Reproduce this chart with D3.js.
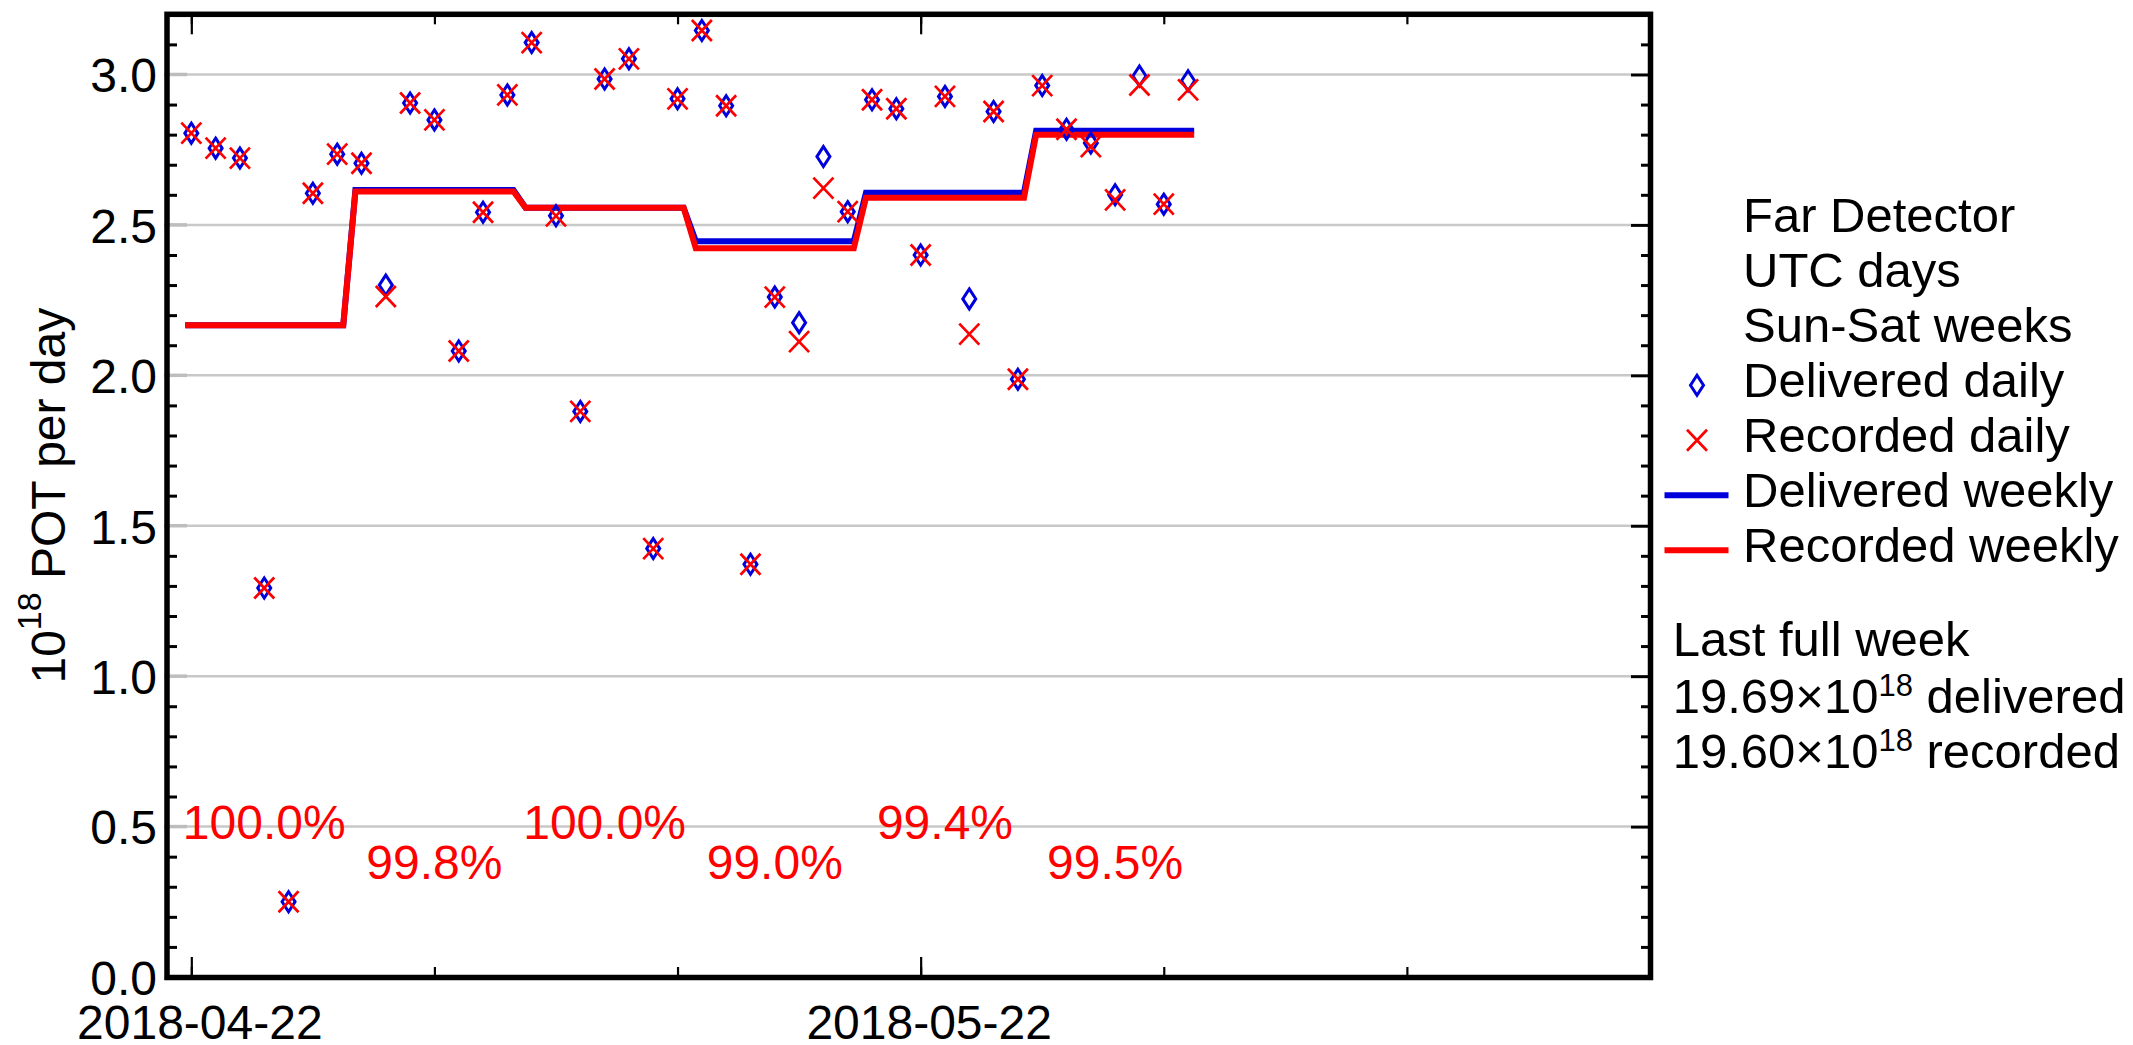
<!DOCTYPE html>
<html>
<head>
<meta charset="utf-8">
<script src="https://cdn.jsdelivr.net/npm/d3@7"></script>
<style>
  body { margin: 0; background: #fff; }
  text { font-family: "Liberation Sans", Arial, Helvetica, sans-serif; }
</style>
</head>
<body>
<svg id="chart" width="2133" height="1045"></svg>
<script>
// POT per UTC day (units of 1e18), starting 2018-04-22
var firstDay = "2018-04-22";
var deliveredDaily = [
  2.805, 2.755, 2.722, 1.293, 0.250, 2.605, 2.735,
  2.705, 2.300, 2.905, 2.849, 2.081, 2.542, 2.932,
  3.106, 2.530, 1.880, 2.985, 3.052, 1.424, 2.919,
  3.146, 2.896, 1.372, 2.260, 2.175, 2.727, 2.544,
  2.916, 2.886, 2.400, 2.927, 2.254, 2.877, 1.987,
  2.963, 2.818, 2.772, 2.600, 2.995, 2.569, 2.979
];
var recordedDaily = [
  2.805, 2.755, 2.722, 1.293, 0.250, 2.605, 2.735,
  2.705, 2.262, 2.905, 2.849, 2.081, 2.542, 2.932,
  3.106, 2.530, 1.880, 2.985, 3.052, 1.424, 2.919,
  3.146, 2.896, 1.372, 2.260, 2.112, 2.622, 2.544,
  2.916, 2.886, 2.400, 2.927, 2.137, 2.877, 1.987,
  2.963, 2.818, 2.760, 2.583, 2.965, 2.569, 2.949
];

// Sun-Sat weeks
var weekStarts = ["2018-04-22", "2018-04-29", "2018-05-06", "2018-05-13", "2018-05-20", "2018-05-27"];
var deliveredWeekly = [2.166, 2.616, 2.557, 2.446, 2.607, 2.813];
var recordedWeekly = [2.166, 2.611, 2.557, 2.422, 2.590, 2.800];
var weekEfficiency = ["100.0%", "99.8%", "100.0%", "99.0%", "99.4%", "99.5%"];

// axes
var xDomain = ["2018-04-21", "2018-06-21"];
var xTickDates = ["2018-04-22", "2018-05-02", "2018-05-12", "2018-05-22", "2018-06-01", "2018-06-11"];
var xLabelDates = ["2018-04-22", "2018-05-22"];
var yLabelValues = [0.0, 0.5, 1.0, 1.5, 2.0, 2.5, 3.0];
var yMinorValues = [0.1, 0.2, 0.3, 0.4, 0.6, 0.7, 0.8, 0.9, 1.1, 1.2, 1.3, 1.4, 1.6, 1.7, 1.8, 1.9,
                    2.1, 2.2, 2.3, 2.4, 2.6, 2.7, 2.8, 2.9, 3.1];

// legend
var legendNotes = ["Far Detector", "UTC days", "Sun-Sat weeks"];
var legendSeries = ["Delivered daily", "Recorded daily", "Delivered weekly", "Recorded weekly"];
var lastWeekTitle = "Last full week";
var lastWeekTotals = ["19.69", "19.60"];
var lastWeekWords = ["delivered", "recorded"];

var blue = "#0000dd";
var red = "#ff0000";
var grid = "#c8c8c8";
var fontSize = 48;

var parse = d3.utcParse("%Y-%m-%d");
var svg = d3.select("#chart");

var plotL = 167, plotR = 1650, plotT = 14.3, plotB = 977;

var x = d3.scaleUtc()
  .domain(xDomain.map(parse))
  .range([plotL, plotR]);
var y = d3.scaleLinear()
  .domain([0, 3.2])
  .range([plotB, plotT]);

var days = d3.utcDay.range(parse(firstDay), d3.utcDay.offset(parse(firstDay), deliveredDaily.length));

// grid lines every 0.5
svg.append("g")
  .selectAll("line")
  .data(yLabelValues.filter(function (v) { return v > 0; }))
  .join("line")
  .attr("x1", plotL - 3).attr("x2", plotR - 19)
  .attr("y1", function (d) { return y(d); })
  .attr("y2", function (d) { return y(d); })
  .attr("stroke", grid)
  .attr("stroke-width", 2.5);
// left major ticks look grey (grid drawn over them)
svg.append("g")
  .selectAll("line")
  .data(yLabelValues)
  .join("line")
  .attr("x1", plotL - 3).attr("x2", plotL + 20)
  .attr("y1", function (d) { return y(d); })
  .attr("y2", function (d) { return y(d); })
  .attr("stroke", "#bdbdbd")
  .attr("stroke-width", 3.5);

function cleanAxis(g, width) {
  g.select(".domain").remove();
  g.selectAll(".tick line").attr("stroke", "#000").attr("stroke-width", width);
}

// y axis: minor ticks left and right, major ticks right
svg.append("g")
  .attr("transform", "translate(" + plotL + ",0)")
  .call(d3.axisLeft(y).tickValues(yMinorValues).tickSize(-10).tickFormat(""))
  .call(cleanAxis, 3);
svg.append("g")
  .attr("transform", "translate(" + plotR + ",0)")
  .call(d3.axisRight(y).tickValues(yMinorValues).tickSize(-9).tickFormat(""))
  .call(cleanAxis, 3);
svg.append("g")
  .attr("transform", "translate(" + plotR + ",0)")
  .call(d3.axisRight(y).tickValues(yLabelValues).tickSize(-19).tickFormat(""))
  .call(cleanAxis, 3);

// y tick labels
var yLab = svg.append("g")
  .attr("transform", "translate(" + plotL + ",0)")
  .call(d3.axisLeft(y).tickValues(yLabelValues).tickSize(0).tickPadding(10).tickFormat(d3.format(".1f")));
yLab.select(".domain").remove();
yLab.attr("font-size", fontSize).attr("font-family", null);
yLab.selectAll("text").attr("dy", "0.36em").attr("fill", "#000");

// x axis ticks, bottom and top
svg.append("g")
  .attr("transform", "translate(0," + plotB + ")")
  .call(d3.axisBottom(x).tickValues(xTickDates.map(parse)).tickSize(-10).tickFormat(""))
  .call(cleanAxis, 2.2);
svg.append("g")
  .attr("transform", "translate(0," + plotT + ")")
  .call(d3.axisTop(x).tickValues(xTickDates.map(parse)).tickSize(-10).tickFormat(""))
  .call(cleanAxis, 2.2);
svg.append("g")
  .attr("transform", "translate(0," + plotT + ")")
  .call(d3.axisTop(x).tickValues(xLabelDates.map(parse)).tickSize(-20).tickFormat(""))
  .call(cleanAxis, 2.2);
var xLab = svg.append("g")
  .attr("transform", "translate(0," + plotB + ")")
  .call(d3.axisBottom(x).tickValues(xLabelDates.map(parse)).tickSize(-20).tickPadding(28)
    .tickFormat(d3.utcFormat("%Y-%m-%d")))
  .call(cleanAxis, 2.2);
xLab.attr("font-size", fontSize).attr("font-family", null);
xLab.selectAll("text").attr("dx", 8).attr("fill", "#000");

// frame
svg.append("rect")
  .attr("x", plotL).attr("y", plotT)
  .attr("width", plotR - plotL + 0.5).attr("height", plotB - plotT + 0.5)
  .attr("fill", "none")
  .attr("stroke", "#000")
  .attr("stroke-width", 5.5);

// weekly lines: each week drawn from Sunday -6h to Saturday +6h
function weekPoints(values) {
  var pts = [];
  weekStarts.forEach(function (w, i) {
    var s = parse(w);
    pts.push({ t: d3.utcHour.offset(s, -6), v: values[i] });
    pts.push({ t: d3.utcHour.offset(s, 6 * 24 + 6), v: values[i] });
  });
  return pts;
}
var weekLine = d3.line()
  .x(function (d) { return x(d.t); })
  .y(function (d) { return y(d.v); });

svg.append("path")
  .attr("d", weekLine(weekPoints(deliveredWeekly)))
  .attr("fill", "none").attr("stroke", blue).attr("stroke-width", 6);
svg.append("path")
  .attr("d", weekLine(weekPoints(recordedWeekly)))
  .attr("fill", "none").attr("stroke", red).attr("stroke-width", 6);

// daily markers
var diamond = "M0,-10L6.5,0L0,10L-6.5,0Z";
var cross = "M-10,-10.5L10,10.5M-10,10.5L10,-10.5";

svg.append("g")
  .selectAll("path")
  .data(deliveredDaily)
  .join("path")
  .attr("transform", function (d, i) { return "translate(" + x(days[i]) + "," + y(d) + ")"; })
  .attr("d", diamond)
  .attr("fill", "none").attr("stroke", blue).attr("stroke-width", 3);

svg.append("g")
  .selectAll("path")
  .data(recordedDaily)
  .join("path")
  .attr("transform", function (d, i) { return "translate(" + x(days[i]) + "," + y(d) + ")"; })
  .attr("d", cross)
  .attr("fill", "none").attr("stroke", red).attr("stroke-width", 2.7);

// weekly recorded/delivered percentages
svg.append("g")
  .selectAll("text")
  .data(weekEfficiency)
  .join("text")
  .attr("x", function (d, i) { return x(d3.utcDay.offset(parse(weekStarts[i]), 3)); })
  .attr("y", function (d, i) { return y(0.5) + (i % 2 === 0 ? 12 : 52.5); })
  .attr("text-anchor", "middle")
  .attr("font-size", fontSize)
  .attr("fill", red)
  .text(function (d) { return d; });

// y axis title
var yTitle = svg.append("text")
  .attr("transform", "translate(65," + ((plotT + plotB) / 2) + ") rotate(-90)")
  .attr("text-anchor", "middle")
  .attr("font-size", fontSize);
yTitle.append("tspan").text("10");
yTitle.append("tspan").attr("font-size", 34).attr("dy", -24).text("18");
yTitle.append("tspan").attr("dy", 24).text(" POT per day");

// legend
var legX = 1743, legY0 = 231.7, legStep = 55;
var legend = svg.append("g").attr("font-size", 49);
legend.selectAll("text")
  .data(legendNotes.concat(legendSeries))
  .join("text")
  .attr("x", legX)
  .attr("y", function (d, i) { return legY0 + i * legStep; })
  .text(function (d) { return d; });

var symX = 1697;
var rowMid = function (i) { return legY0 + i * legStep - 11.5; };
legend.append("path")
  .attr("transform", "translate(" + symX + "," + rowMid(3) + ")")
  .attr("d", diamond)
  .attr("fill", "none").attr("stroke", blue).attr("stroke-width", 3);
legend.append("path")
  .attr("transform", "translate(" + symX + "," + rowMid(4) + ")")
  .attr("d", cross)
  .attr("fill", "none").attr("stroke", red).attr("stroke-width", 2.7);
legend.append("line")
  .attr("x1", 1664.5).attr("x2", 1728.5)
  .attr("y1", rowMid(5)).attr("y2", rowMid(5))
  .attr("stroke", blue).attr("stroke-width", 6);
legend.append("line")
  .attr("x1", 1664.5).attr("x2", 1728.5)
  .attr("y1", rowMid(6)).attr("y2", rowMid(6))
  .attr("stroke", red).attr("stroke-width", 6);

// last full week summary
var sumX = 1672.7;
legend.append("text").attr("x", sumX).attr("y", 656).text(lastWeekTitle);
lastWeekTotals.forEach(function (v, i) {
  var t = legend.append("text").attr("x", sumX).attr("y", 713.3 + i * 55);
  t.append("tspan").text(v + "\u00d710");
  t.append("tspan").attr("font-size", 31).attr("dy", -17).text("18");
  t.append("tspan").attr("dy", 17).text(" " + lastWeekWords[i]);
});
</script>
</body>
</html>
